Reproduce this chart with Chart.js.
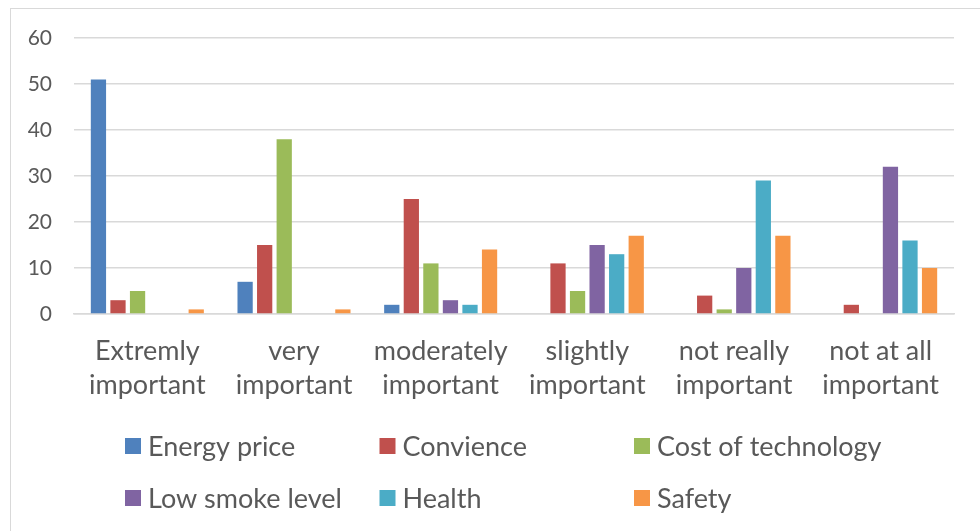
<!DOCTYPE html>
<html>
<head>
<meta charset="utf-8">
<script src="https://cdn.jsdelivr.net/npm/chart.js@4"></script>
<style>
html,body{margin:0;padding:0;background:#fff;}
#wrap{position:relative;width:980px;height:531px;}
</style>
</head>
<body>
<div id="wrap"><canvas id="c" width="980" height="531"></canvas></div>
<script>
const categories = [["Extremly","important"],["very","important"],["moderately","important"],["slightly","important"],["not really","important"],["not at all","important"]];
const seriesNames = ["Energy price","Convience","Cost of technology","Low smoke level","Health","Safety"];
const energyPrice   = [51, 7, 2, 0, 0, 0];
const convience     = [3, 15, 25, 11, 4, 2];
const costOfTech    = [5, 38, 11, 5, 1, 0];
const lowSmoke      = [0, 0, 3, 15, 10, 32];
const health        = [0, 0, 2, 13, 29, 16];
const safety        = [1, 1, 14, 17, 17, 10];
const yTicks = [0, 10, 20, 30, 40, 50, 60];

const colors = ["#4F81BD","#C0504D","#9BBB59","#8064A2","#4BACC6","#F79646"];
const seriesValues = [energyPrice, convience, costOfTech, lowSmoke, health, safety];
const FONT = "Lato, 'Open Sans', sans-serif";
const TXT = "#595959";

const legendPlugin = {
  id: 'customLegend',
  beforeDraw(chart) {
    const ctx = chart.ctx;
    ctx.save();
    ctx.strokeStyle = "#d9d9d9";
    ctx.lineWidth = 1;
    ctx.strokeRect(10.5, 8.5, 1000, 600);
    ctx.restore();
  },
  afterDraw(chart) {
    const ctx = chart.ctx;
    ctx.save();
    ctx.font = "27px " + FONT;
    ctx.textBaseline = "middle";
    ctx.textAlign = "left";
    chart.data.datasets.forEach((ds, i) => {
      const col = i % 3, row = Math.floor(i / 3);
      const x = 125 + col * 254.5;
      const y = 446 + row * 52;
      ctx.fillStyle = ds.backgroundColor;
      ctx.fillRect(x, y - 8, 16, 16);
      ctx.fillStyle = TXT;
      ctx.fillText(ds.label, x + 23, y + 1);
    });
    ctx.restore();
  }
};

new Chart(document.getElementById('c'), {
  type: 'bar',
  data: {
    labels: categories,
    datasets: seriesNames.map((n, i) => ({
      label: n,
      data: seriesValues[i],
      backgroundColor: colors[i],
      borderColor: "#ffffff",
      borderWidth: 0,
      categoryPercentage: 0.8,
      barPercentage: 0.78
    }))
  },
  options: {
    responsive: false,
    animation: false,
    devicePixelRatio: 1,
    layout: { padding: { left: 0, right: 26, top: 38, bottom: 0 } },
    plugins: { legend: { display: false }, tooltip: { enabled: false } },
    scales: {
      x: {
        grid: { display: false, drawTicks: false },
        border: { display: true, color: "#d9d9d9", width: 1.5 },
        ticks: { color: TXT, font: { family: FONT, size: 27, lineHeight: 1.23 }, padding: 21, maxRotation: 0, autoSkip: false },
        afterFit(scale) { scale.height = 531 - 314; }
      },
      y: {
        min: 0, max: 60,
        afterBuildTicks(scale) { scale.ticks = yTicks.map(v => ({ value: v })); },
        grid: { color: "#d9d9d9", lineWidth: 1.5, drawTicks: false },
        border: { display: false },
        ticks: { color: TXT, font: { family: FONT, size: 21 }, padding: 22 },
        afterFit(scale) { scale.width = 74; }
      }
    }
  },
  plugins: [legendPlugin]
});
</script>
</body>
</html>
